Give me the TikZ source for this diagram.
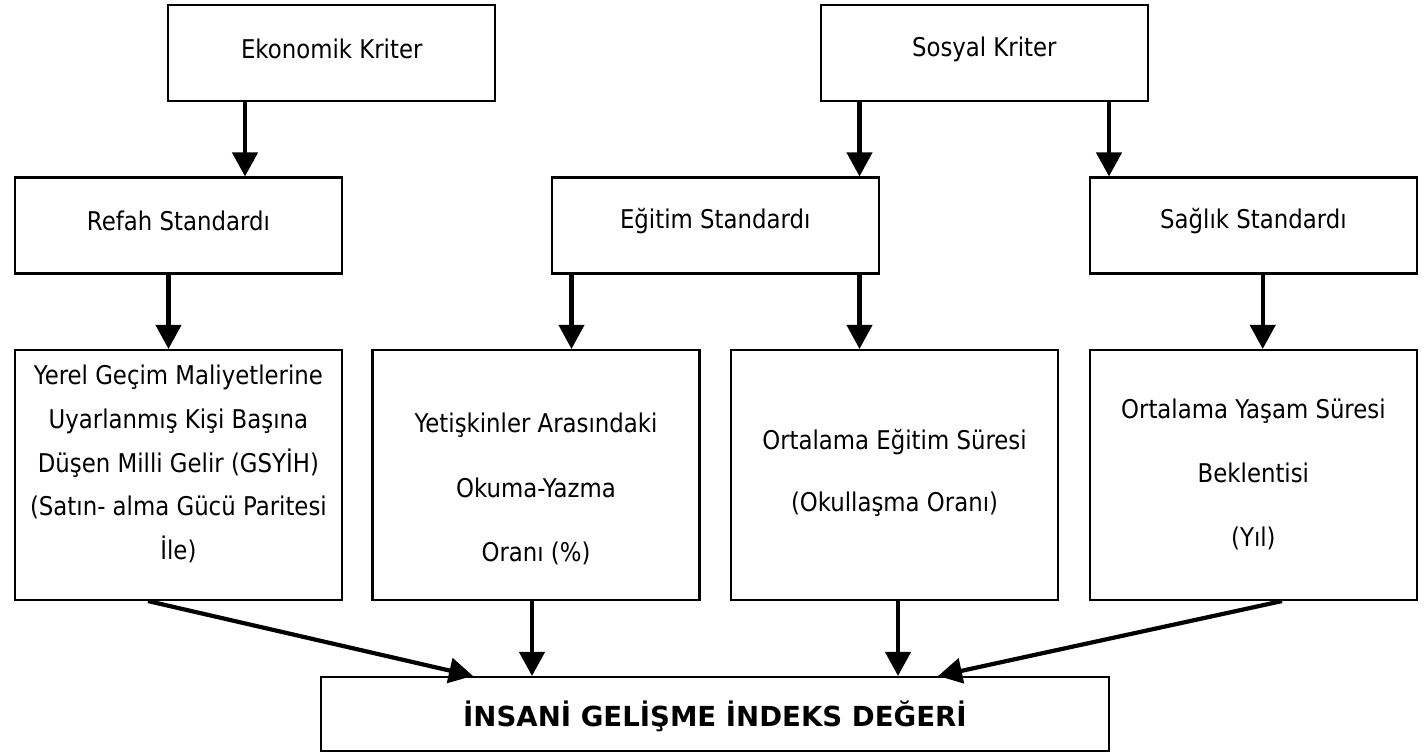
\documentclass[tikz,border=0pt]{standalone}
\usepackage{fontspec}
\setmainfont[FakeStretch=0.885]{DejaVu Sans}
\newfontfamily\titlefont{DejaVu Sans}
\usetikzlibrary{arrows.meta}
\begin{document}
\begin{tikzpicture}[x=0.5pt,y=-0.5pt,
 box/.style={draw=black, line width=1.05pt, rectangle, inner sep=0pt, minimum width=163.5pt},
 smallbox/.style={box, minimum height=48pt},
 tallbox/.style={box, minimum height=125pt},
 txt/.style={inner sep=0pt, align=center, font=\fontsize{12.9}{15}\selectfont},
 arr/.style={line width=2.1pt, -{Triangle[length=12pt,width=12.5pt]}}]
\useasboundingbox (0,0) rectangle (1425,755);
% boxes
\node[smallbox] (ek) at (331.75,53) {};
\node[smallbox] (so) at (984.3,53) {};
\node[smallbox] (re) at (178.4,225.5) {};
\node[smallbox] (eg) at (715.2,225.5) {};
\node[smallbox] (sa) at (1253.4,225.5) {};
\node[tallbox] (ye) at (178.4,475) {};
\node[tallbox] (ok) at (536,475) {};
\node[tallbox] (oe) at (894.5,475) {};
\node[tallbox] (ya) at (1253.4,475) {};
\node[box, minimum width=394pt, minimum height=37pt] (fi) at (715,714) {};
% texts
\node[txt] (ekT) at (331.75,49) {Ekonomik Kriter};
\node[txt] (soT) at (984.3,49) {Sosyal Kriter};
\node[txt] (reT) at (178.4,221) {Refah Standardı};
\node[txt] (egT) at (715.2,221) {Eğitim Standardı};
\node[txt] (saT) at (1253.4,221) {Sağlık Standardı};
\node[txt, font=\fontsize{12.9}{21.85}\selectfont] (yeT) at (178.4,464) {Yerel Geçim Maliyetlerine\\Uyarlanmış Kişi Başına\\Düşen Milli Gelir (GSYİH)\\(Satın- alma Gücü Paritesi\\İle)};
\node[txt, font=\fontsize{12.9}{32.25}\selectfont] (okT) at (536,489) {Yetişkinler Arasındaki\\Okuma-Yazma\\Oranı (\%)};
\node[txt, font=\fontsize{12.9}{31}\selectfont] (oeT) at (894.5,473) {Ortalama Eğitim Süresi\\(Okullaşma Oranı)};
\node[txt, font=\fontsize{12.9}{32}\selectfont] (yaT) at (1253.4,474) {Ortalama Yaşam Süresi\\Beklentisi\\(Yıl)};
\node[inner sep=0pt, font=\titlefont\bfseries\fontsize{13.8}{16}\selectfont] (fiT) at (715,716) {İNSANİ GELİŞME İNDEKS DEĞERİ};
% arrows
\draw[arr] (ek.south -| 245,0) -- (re.north -| 245,0);
\draw[arr] (so.south -| 859.5,0) -- (eg.north -| 859.5,0);
\draw[arr] (so.south -| 1109,0) -- (sa.north -| 1109,0);
\draw[arr] (re.south -| 168.5,0) -- (ye.north -| 168.5,0);
\draw[arr] (eg.south -| 571.5,0) -- (ok.north -| 571.5,0);
\draw[arr] (eg.south -| 859.5,0) -- (oe.north -| 859.5,0);
\draw[arr] (sa.south -| 1262.7,0) -- (ya.north -| 1262.7,0);
\draw[arr] (ye.south -| 148,0) -- (fi.north -| 473,0);
\draw[arr] (ok.south -| 532,0) -- (fi.north -| 532,0);
\draw[arr] (oe.south -| 898,0) -- (fi.north -| 898,0);
\draw[arr] (ya.south -| 1282,0) -- (fi.north -| 938,0);
\end{tikzpicture}
\end{document}
